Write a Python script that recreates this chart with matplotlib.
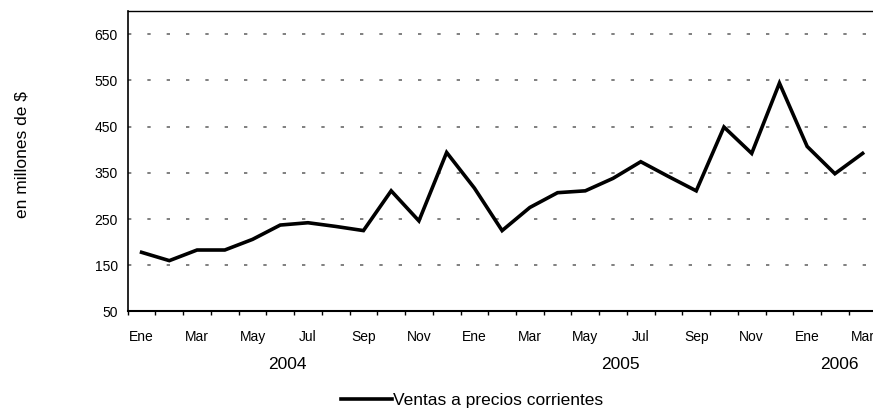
import numpy as np
import matplotlib
matplotlib.use("Agg")
import matplotlib.pyplot as plt

plt.rcParams['font.family'] = ['Liberation Sans', 'DejaVu Sans']

# datos mensuales, Ene 2004 - Mar 2006
meses = ['Ene', 'Feb', 'Mar', 'Abr', 'May', 'Jun', 'Jul', 'Ago', 'Sep', 'Oct', 'Nov', 'Dic',
         'Ene', 'Feb', 'Mar', 'Abr', 'May', 'Jun', 'Jul', 'Ago', 'Sep', 'Oct', 'Nov', 'Dic',
         'Ene', 'Feb', 'Mar']
anios = ['2004', '2005', '2006']
meses_por_anio = [12, 12, 3]
ventas = [178, 160, 183, 183, 206, 237, 242, 234, 225, 311, 246, 394,
          317, 225, 275, 307, 311, 338, 374, 342, 311, 449, 392, 544,
          407, 348, 392]

fig = plt.figure(figsize=(8.73, 4.09), dpi=100)
ax = fig.add_axes([0.1463, 0.2384, 0.8577, 0.7347])

x = np.arange(len(ventas))
ax.plot(x, ventas, color='black', lw=2.6, solid_joinstyle='miter',
        label='Ventas a precios corrientes')

ax.set_xlim(-0.5, len(ventas) - 0.5)
ax.set_ylim(50, 700)
ax.set_yticks(range(150, 651, 100))
ax.set_yticks([50], minor=True)
ax.set_yticklabels([str(v) for v in range(150, 651, 100)])
ax.yaxis.set_minor_formatter(matplotlib.ticker.FixedFormatter(['50']))
ax.tick_params(axis='y', which='both', length=0, pad=7, labelsize=10)

ax.yaxis.grid(True, which='major', color='#6a6a6a', lw=1.2, linestyle=(0, (2, 9.6)))
ax.set_axisbelow(True)

# etiquetas de meses cada dos, marcas en los limites de categoria
ax.set_xticks(x[::2])
ax.set_xticklabels(meses[::2])
ax.set_xticks(np.arange(-0.5, len(ventas), 1), minor=True)
ax.tick_params(axis='x', which='major', length=0, pad=13, labelsize=10)
ax.tick_params(axis='x', which='minor', length=3, width=1, direction='out')

ax.spines['right'].set_visible(False)
ax.spines['top'].set_linewidth(1.0)
ax.spines['left'].set_linewidth(1.2)
ax.spines['bottom'].set_linewidth(1.5)

ax.set_ylabel('en millones de $', fontsize=12.5)
ax.yaxis.set_label_coords(-0.131, 0.523)

# etiquetas de anio bajo su grupo de meses
inicio = 0
for anio, n in zip(anios, meses_por_anio):
    centro = inicio + (n - 1) / 2
    if n == 12:
        centro -= 0.25
    else:
        centro += 0.15
    ax.text(centro, 0.1076, anio,
            transform=matplotlib.transforms.blended_transform_factory(ax.transData, fig.transFigure),
            ha='center', va='center', fontsize=12.5)
    inicio += n

fig.legend(loc='center', bbox_to_anchor=(0.541, 0.021), frameon=False, fontsize=12.5,
           handlelength=2.9, handletextpad=0.1, borderpad=0, borderaxespad=0)

fig.savefig('out.png', dpi=100)
